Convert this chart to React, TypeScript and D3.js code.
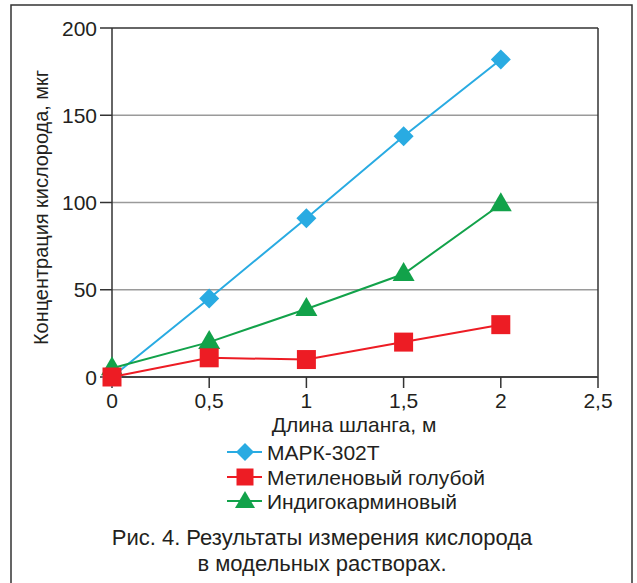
import React from "react";
import * as d3 from "d3";

const xValues = [0, 0.5, 1, 1.5, 2];
const markValues = [0, 45, 91, 138, 182];
const methyleneValues = [0, 11, 10, 20, 30];
const indigoValues = [5, 20, 39, 59, 99];
const xTicks = [0, 0.5, 1, 1.5, 2, 2.5];
const yTicks = [0, 50, 100, 150, 200];
const seriesNames = ["МАРК-302Т", "Метиленовый голубой", "Индигокарминовый"];
const xTitle = "Длина шланга, м";
const yTitle = "Концентрация кислорода, мкг";
const caption = ["Рис. 4. Результаты измерения кислорода", "в модельных растворах."];

const BLUE = "#29abe2";
const RED = "#ed1c24";
const GREEN = "#12a24a";
const TEXT = "#231f20";
const FONT = "'Liberation Sans', Arial, sans-serif";

export default function App() {
  const W = 637, H = 583;
  const x = d3.scaleLinear().domain([0, 2.5]).range([112, 598]);
  const y = d3.scaleLinear().domain([0, 200]).range([377, 28]);
  const line = d3
    .line<[number, number]>()
    .x((d) => x(d[0]))
    .y((d) => y(d[1]));
  const pts = (vals: number[]) => xValues.map((v, i) => [v, vals[i]] as [number, number]);

  const diamond = (cx: number, cy: number, r = 10) =>
    `M${cx},${cy - r}L${cx + r},${cy}L${cx},${cy + r}L${cx - r},${cy}Z`;
  const triangle = (cx: number, cy: number) =>
    `M${cx},${cy - 12}L${cx + 11},${cy + 7}L${cx - 11},${cy + 7}Z`;
  const square = (cx: number, cy: number, s = 19) =>
    `M${cx - s / 2},${cy - s / 2}h${s}v${s}h${-s}Z`;

  const legendY = [452, 477, 501];
  const legendColors = [BLUE, RED, GREEN];

  return (
    <svg width={W} height={H} style={{ position: "absolute", left: 0, top: 0, background: "#fff" }} fontFamily={FONT}>
      <rect x={0} y={0} width={W} height={H} fill="#fff" />
      <rect x={11} y={5} width={621} height={H + 10} fill="none" stroke="#333" strokeWidth={1.5} />
      {yTicks.filter((t) => t > 0 && t < 200).map((t) => (
        <line key={t} x1={x(0)} x2={x(2.5)} y1={y(t)} y2={y(t)} stroke="#9a9a9a" strokeWidth={1.3} />
      ))}
      <line x1={x(0)} x2={x(2.5)} y1={y(200)} y2={y(200)} stroke="#333" strokeWidth={1.5} />
      <line x1={x(2.5)} x2={x(2.5)} y1={y(200)} y2={y(0)} stroke="#333" strokeWidth={1.5} />
      <line x1={x(0)} x2={x(0)} y1={y(200)} y2={y(0)} stroke="#333" strokeWidth={1.5} />
      <line x1={x(0)} x2={x(2.5)} y1={y(0)} y2={y(0)} stroke="#444" strokeWidth={2} />
      {yTicks.map((t) => (
        <g key={t}>
          <line x1={100} x2={x(0)} y1={y(t)} y2={y(t)} stroke="#333" strokeWidth={1.5} />
          <text x={97} y={y(t)} dy="0.36em" textAnchor="end" fontSize={21} fill={TEXT}>
            {t}
          </text>
        </g>
      ))}
      {xTicks.map((t) => (
        <g key={t}>
          <line x1={x(t)} x2={x(t)} y1={y(0)} y2={y(0) + 11} stroke="#333" strokeWidth={1.5} />
          <text x={x(t)} y={408} textAnchor="middle" fontSize={21} fill={TEXT}>
            {String(t).replace(".", ",")}
          </text>
        </g>
      ))}
      <text x={354} y={432} textAnchor="middle" fontSize={21} fill={TEXT}>
        {xTitle}
      </text>
      <text
        transform="translate(48,207.5) rotate(-90)"
        textAnchor="middle"
        fontSize={21}
        textLength={275}
        lengthAdjust="spacingAndGlyphs"
        fill={TEXT}
      >
        {yTitle}
      </text>
      <path d={line(pts(markValues)) || ""} fill="none" stroke={BLUE} strokeWidth={2} />
      {pts(markValues).map((p, i) => (
        <path key={"b" + i} d={diamond(x(p[0]), y(p[1]))} fill={BLUE} />
      ))}
      <path d={line(pts(indigoValues)) || ""} fill="none" stroke={GREEN} strokeWidth={2} />
      {pts(indigoValues).map((p, i) => (
        <path key={"g" + i} d={triangle(x(p[0]), y(p[1]))} fill={GREEN} />
      ))}
      <path d={line(pts(methyleneValues)) || ""} fill="none" stroke={RED} strokeWidth={2} />
      {pts(methyleneValues).map((p, i) => (
        <path key={"r" + i} d={square(x(p[0]), y(p[1]))} fill={RED} />
      ))}
      {seriesNames.map((n, i) => {
        const ly = legendY[i];
        const c = legendColors[i];
        return (
          <g key={n}>
            <line x1={227} x2={262} y1={ly} y2={ly} stroke={c} strokeWidth={2} />
            {i === 0 && <path d={diamond(245, ly, 9)} fill={c} />}
            {i === 1 && <path d={square(245, ly, 17)} fill={c} />}
            {i === 2 && <path d={`M245,${ly - 10}L255,${ly + 7}L235,${ly + 7}Z`} fill={c} />}
            <text x={267} y={ly} dy="0.36em" fontSize={21} fill={TEXT}>
              {n}
            </text>
          </g>
        );
      })}
      {caption.map((c, i) => (
        <text key={i} x={322} y={545 + i * 26} textAnchor="middle" fontSize={22} fill={TEXT}>
          {c}
        </text>
      ))}
    </svg>
  );
}
